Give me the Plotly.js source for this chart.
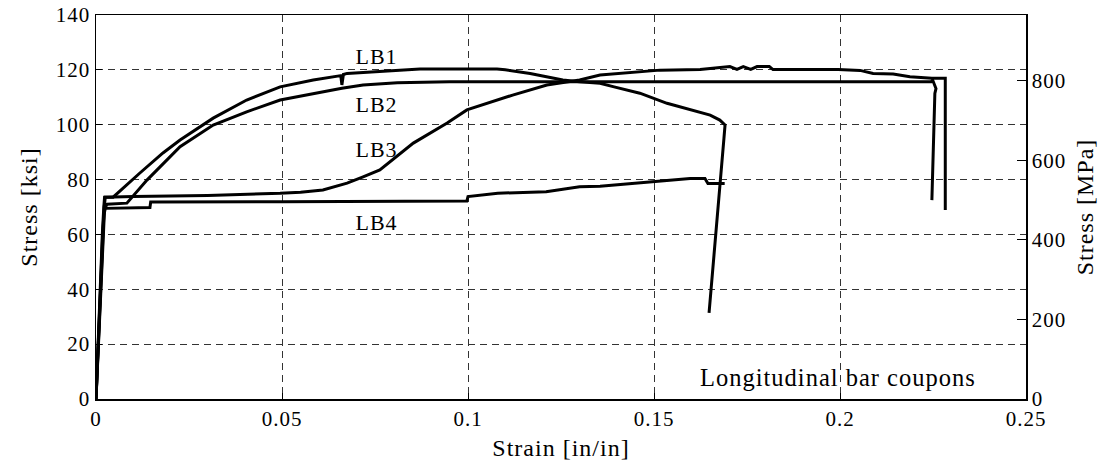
<!DOCTYPE html>
<html>
<head>
<meta charset="utf-8">
<script src="https://cdn.plot.ly/plotly-3.0.1.min.js"></script>
<style>
html,body{margin:0;padding:0;background:#fff;}
#chart{width:1109px;height:471px;}
#chart text{letter-spacing:1px;}
</style>
</head>
<body>
<div id="chart"></div>
<script>
// Stress–strain data (strain in in/in, stress in ksi)
const lb1Strain = [0,0.0005,0.0008,0.0013,0.0018,0.0022,0.0025,0.0046,0.0118,0.018,0.0226,0.0315,0.0405,0.0495,0.0584,0.0658,0.0661,0.0665,0.0675,0.0763,0.0871,0.1078,0.110,0.1167,0.1255,0.130,0.1355,0.139,0.1462,0.1535,0.1624,0.1651,0.1677,0.1691,0.1688,0.1648];
const lb1Stress = [0,15,30,45,60,70,73.6,73.6,82.4,89.7,94.4,102.4,109,113.8,116.3,117.9,114.5,118.3,118.7,119.3,120.3,120.3,120,118.7,116.3,115.7,115.1,113.9,111.5,107.8,104.7,103.5,101.7,99.9,95,31.4];

const lb2Strain = [0,0.0005,0.0009,0.0014,0.0019,0.0023,0.0030,0.0083,0.0137,0.0226,0.0315,0.0405,0.0495,0.0584,0.0661,0.0718,0.081,0.095,0.2245,0.2249,0.2258,0.2255,0.2250,0.2247];
const lb2Stress = [0,15,30,45,60,69.5,71,71.4,79.8,92,99.9,104.7,109,111.4,113.3,114.5,115.3,115.7,115.7,116.3,113.2,111.4,87,72.5];

const lb3Strain = [0,0.0004,0.0008,0.0012,0.0017,0.0021,0.0023,0.01,0.03,0.0495,0.055,0.061,0.0675,0.0718,0.0763,0.0853,0.0944,0.0997,0.112,0.1212,0.130,0.1355,0.1409,0.1462,0.1516,0.1624,0.1704,0.1723,0.174,0.176,0.1777,0.181,0.182,0.1995,0.2054,0.2089,0.2143,0.2188,0.2247,0.2283,0.2283];
const lb3Stress = [0,15,30,45,60,70,73.6,73.8,74.2,75,75.4,76.2,78.7,81,83.5,93.3,100.6,105.4,110.8,114.5,116.3,118.1,118.7,119.3,119.9,120.1,121.2,120.2,121.2,120.2,121.2,121.2,120.1,120.1,119.8,118.7,118.5,117.5,116.9,116.9,68.9];

const lb4Strain = [0,0.0004,0.0008,0.0013,0.0018,0.0021,0.0025,0.0145,0.0147,0.05,0.0997,0.1,0.108,0.121,0.130,0.1355,0.149,0.1597,0.1637,0.1645,0.169];
const lb4Stress = [0,15,30,45,60,67,69.5,69.8,71.8,71.9,72.2,73.8,75,75.6,77.4,77.6,79.2,80.4,80.4,78.6,78.6];

const xTicks = [0,0.05,0.1,0.15,0.2,0.25];
const xTickText = ["0","0.05","0.1","0.15","0.2","0.25"];
const yTicks = [0,20,40,60,80,100,120,140];
const y2Ticks = [0,200,400,600,800];
const labels = ["LB1","LB2","LB3","LB4"];
const labelX = [0.0753,0.0753,0.0753,0.0753];
const labelY = [124.7,107.5,91.1,64.5];
const noteText = "Longitudinal bar coupons";
const ksiToMPa = 6.895;

const serif = '"Liberation Serif", "Times New Roman", serif';
const lineStyle = {color:"#000", width:3};
const series = [[lb1Strain,lb1Stress],[lb2Strain,lb2Stress],[lb3Strain,lb3Stress],[lb4Strain,lb4Stress]];
const traces = series.map((s,i)=>({x:s[0], y:s[1], type:"scatter", mode:"lines", line:lineStyle, name:labels[i], showlegend:false, hoverinfo:"none"}));
traces.push({x:[null], y:[null], yaxis:"y2", type:"scatter", mode:"lines", showlegend:false, hoverinfo:"none"});

const annotations = labels.map((t,i)=>({x:labelX[i], y:labelY[i], xref:"x", yref:"y", text:t, showarrow:false, font:{family:serif, size:22, color:"#000"}}));
annotations.push({x:0.2338, y:8, xref:"x", yref:"y", xanchor:"right", text:noteText, showarrow:false, font:{family:serif, size:24.5, color:"#000"}});

const grid = {showgrid:true, gridcolor:"#333", gridwidth:1, griddash:"7px,5px"};
const tickFont = {family:serif, size:21, color:"#000"};
const titleFont = {family:serif, size:24, color:"#000"};
const layout = {
  width:1109, height:471,
  margin:{l:96, r:83, t:15, b:72},
  paper_bgcolor:"#fff", plot_bgcolor:"#fff",
  font:{family:serif, size:21, color:"#000"},
  xaxis:Object.assign({range:[0,0.25], tickvals:xTicks, ticktext:xTickText, tickfont:tickFont, showline:true, linecolor:"#000", linewidth:1.5, mirror:true, ticks:"inside", ticklen:6, tickcolor:"#000", zeroline:false, title:{text:"Strain [in/in]", font:titleFont, standoff:9}}, grid),
  yaxis:Object.assign({range:[0,140], tickvals:yTicks, tickfont:tickFont, showline:true, linecolor:"#000", linewidth:1.5, ticks:"inside", ticklen:6, tickcolor:"#000", zeroline:false, title:{text:"Stress [ksi]", font:titleFont, standoff:14}}, grid),
  yaxis2:{overlaying:"y", side:"right", range:[0,140*ksiToMPa], tickvals:y2Ticks, tickfont:tickFont, showgrid:false, zeroline:false, showline:true, linecolor:"#000", linewidth:1.5, ticks:"inside", ticklen:9, tickcolor:"#000", title:{text:"Stress [MPa]", font:titleFont, standoff:14}},
  annotations:annotations,
  showlegend:false
};
Plotly.newPlot("chart", traces, layout, {staticPlot:true, displayModeBar:false});
</script>
</body>
</html>
